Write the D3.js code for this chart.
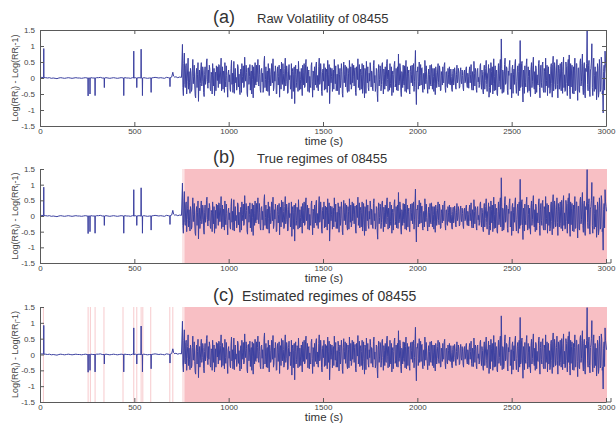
<html>
<head>
<script src="https://cdnjs.cloudflare.com/ajax/libs/d3/7.8.5/d3.min.js"></script>
<style>
  body { margin: 0; background: #fff; }
  svg text { font-family: "Liberation Sans", Arial, sans-serif; fill: #333; }
  .axis path, .axis line { stroke: #5a5a5a; }
</style>
</head>
<body>
<script>
// quiet part, 0..750 s: baseline samples plus single-sample spikes
var quietTimes = [
  0,10,19,20,21,30,40,50,60,70,80,90,100,110,120,130,140,150,160,170,
  180,190,200,210,220,230,240,250,254,255,256,264,265,266,270,280,291,292,293,300,
  310,320,330,340,341,342,350,360,370,380,390,400,410,420,430,443,444,445,450,460,
  470,480,490,496,497,498,505,512,513,514,525,535,536,537,542,543,544,550,560,570,
  580,588,589,590,600,610,620,630,640,650,660,670,680,688,689,690,698,704,708,715,
  720,730,740,750
];
var quietValues = [
  0.01,0.02,0.01,0.92,0.01,0.01,0.00,0.01,-0.01,0.00,-0.01,-0.02,0.00,0.01,0.00,-0.01,0.00,0.01,0.00,-0.01,
  0.00,0.01,0.00,0.00,-0.01,0.00,0.01,0.00,0.00,-0.56,0.00,0.00,-0.50,0.00,0.01,0.00,0.00,-0.55,0.00,0.01,
  0.01,0.02,0.00,0.00,-0.30,0.00,0.01,0.00,-0.01,0.00,0.01,0.00,-0.01,0.00,0.01,0.00,-0.55,0.00,0.01,0.00,
  0.00,-0.01,0.01,0.00,0.84,0.00,0.01,0.00,-0.30,0.00,0.01,0.00,0.90,0.00,0.00,-0.55,0.00,0.01,0.00,-0.01,
  0.00,0.00,-0.45,0.00,0.01,0.02,0.01,0.00,0.01,0.00,-0.01,0.02,0.01,0.00,-0.27,0.01,0.03,0.18,0.06,0.02,
  0.04,0.01,0.03,0.02
];

// active part, samples every 5 s from 755 s to 3000 s (one row = 100 s)
var activeStart = 755, activeStep = 5;
var activeValues = [
  1.05,-0.55,0.78,-0.30,0.45,-0.12,0.62,0.20,-0.48,0.15, -0.35,0.58,0.05,-0.22,-0.62,0.30,0.10,-0.73,0.25,-0.18,
  0.48,-0.10,0.22,-0.58,0.35,-0.05,0.60,-0.32,-0.15,0.28, -0.40,0.12,0.45,-0.25,-0.55,0.18,0.38,-0.08,-0.30,0.40,
  -0.18,0.62,-0.05,-0.35,0.20,0.48,-0.28,0.08,-0.60,0.25, 0.10,-0.42,0.55,0.15,-0.20,-0.48,0.30,0.02,-0.25,0.35,
  0.12,-0.52,0.28,0.45,-0.15,-0.30,0.65,-0.10,0.18,-0.58, 0.32,0.05,-0.38,0.22,0.40,-0.62,0.08,0.48,-0.22,-0.12,
  0.58,-0.25,0.10,-0.45,0.30,0.15,-0.35,0.68,-0.05,-0.40, 0.22,0.45,-0.55,0.12,-0.18,0.38,0.60,-0.30,-0.10,0.25,
  -0.48,0.35,0.05,-0.60,0.28,0.50,-0.20,0.15,-0.35,0.62, -0.12,0.20,-0.45,0.42,0.08,-0.28,-0.65,0.30,0.12,-0.80,
  0.40,-0.15,0.22,0.52,-0.38,-0.05,0.30,-0.55,0.18,0.45, -0.25,0.58,-0.10,-0.42,0.25,0.05,-0.30,0.48,-0.60,0.15,
  0.35,-0.22,0.50,0.08,-0.40,0.62,-0.15,0.20,-0.55,0.28, 0.45,-0.10,-0.35,0.18,0.55,-0.25,-0.80,0.32,0.05,-0.42,
  0.25,0.58,-0.18,-0.40,0.12,0.42,-0.52,0.30,-0.08,0.20, -0.60,0.50,0.10,-0.28,0.35,-0.45,0.15,0.55,-0.20,-0.35,
  0.45,0.05,-0.25,0.32,-0.55,0.18,0.60,-0.12,-0.38,0.28, 0.10,-0.48,0.40,-0.62,0.22,0.52,-0.15,-0.30,0.15,0.48,
  -0.28,0.18,-0.40,0.55,0.08,-0.32,0.25,-0.74,0.42,-0.05, 0.30,-0.20,0.48,-0.50,0.12,0.35,-0.25,0.58,-0.42,0.02,
  0.45,-0.30,-0.55,0.22,0.10,0.52,-0.18,-0.38,0.35,0.75, -0.12,0.28,-0.58,0.15,0.40,-0.22,-0.42,0.55,0.05,-0.35,
  0.25,-0.50,0.38,0.12,-0.25,0.45,-0.10,0.86,-0.83,0.20, -0.35,0.50,0.08,-0.22,0.32,-0.45,0.15,0.55,-0.18,-0.05,
  -0.48,0.28,0.10,-0.20,0.42,-0.35,0.05,0.30,-0.52,0.18, -0.12,0.45,-0.28,0.22,-0.38,0.08,0.35,-0.15,0.48,-0.45,
  0.20,-0.30,0.12,0.35,-0.22,0.05,-0.42,0.28,-0.10,0.18, -0.35,0.40,-0.05,0.15,-0.28,0.32,-0.18,0.08,-0.40,0.25,
  -0.12,0.35,-0.30,0.05,0.22,-0.15,0.42,-0.38,0.10,0.52, -0.25,0.18,-0.45,0.30,0.02,-0.20,0.45,-0.35,0.12,-0.50,
  0.40,-0.08,0.55,-0.42,0.18,-0.60,0.30,0.48,-0.22,-0.50, 0.60,0.05,-0.38,0.25,-0.55,0.45,-0.10,0.58,1.22,-0.48,
  0.20,-0.35,0.62,-0.15,0.30,-0.52,0.08,0.55,-0.30,-0.62, 0.40,0.12,-0.20,0.58,-0.48,0.25,-0.55,0.45,1.17,-0.25,
  0.52,-0.75,0.15,0.38,-0.28,0.60,-0.45,0.05,0.25,-0.58, 0.48,-0.12,0.65,-0.35,-0.50,0.30,0.10,-0.22,0.55,-0.62,
  0.40,-0.30,0.50,-0.45,0.20,0.62,-0.08,-0.55,0.35,0.12, -0.40,0.45,-0.60,0.68,-0.20,0.28,-0.32,0.58,-0.62,0.15,
  0.30,-0.25,0.50,-0.48,0.65,0.10,-0.40,0.35,-0.55,0.58, 0.72,-0.65,-0.28,0.40,0.15,-0.50,0.62,-0.38,0.45,-0.70,
  0.32,-0.45,0.60,-0.12,0.75,-0.52,0.48,-0.62,0.20,1.48, -0.40,0.55,-0.58,0.30,1.07,-0.55,0.62,0.08,-0.35,-0.68,
  0.45,-0.60,0.58,-0.42,0.65,-0.50,-1.09,0.40,0.84,0.30
];
// samples in between, 757.5 s .. 2997.5 s
var activeMidStart = 757.5;
var activeMidValues = [
  -0.30,0.45,-0.20,0.38,-0.50,0.25,-0.35,-0.15,0.30,-0.42, 0.22,-0.18,0.40,-0.55,0.12,-0.30,0.48,0.05,-0.40,0.28,
  -0.25,0.35,-0.45,0.10,-0.20,0.50,-0.12,0.25,0.40,-0.35, 0.18,-0.50,0.08,0.30,-0.22,-0.40,0.15,0.35,0.42,-0.18,
  0.28,-0.40,0.35,0.22,-0.45,-0.10,0.38,-0.30,0.15,-0.12, -0.35,0.30,-0.20,-0.45,0.52,0.10,-0.15,-0.38,0.42,-0.28,
  -0.35,0.20,-0.45,0.05,0.38,-0.25,0.12,0.40,-0.48,0.30, -0.20,0.42,0.15,-0.50,-0.05,0.35,-0.30,-0.18,0.40,0.22,
  -0.20,0.40,-0.38,0.25,-0.12,-0.45,0.50,-0.30,0.35,0.18, -0.42,-0.08,0.30,-0.25,0.45,-0.15,-0.40,0.20,0.38,-0.50,
  0.15,-0.22,0.40,0.18,-0.35,-0.12,0.45,-0.40,0.30,-0.25, 0.38,-0.48,0.22,-0.05,-0.35,0.45,0.20,-0.42,0.35,0.10,
  -0.30,0.28,-0.42,0.10,0.20,-0.35,-0.18,0.40,-0.22,-0.30, 0.42,-0.15,0.35,0.20,-0.45,-0.25,0.38,-0.12,0.22,-0.38,
  0.12,0.40,-0.30,-0.25,0.35,-0.20,0.45,-0.42,0.18,-0.10, -0.38,0.32,0.28,-0.45,0.10,0.42,-0.35,-0.15,0.30,0.18,
  -0.35,0.15,0.38,-0.22,-0.40,0.25,0.10,-0.30,0.45,-0.48, 0.22,-0.15,0.40,0.05,-0.35,0.30,-0.42,0.18,0.35,-0.25,
  -0.15,0.40,0.22,-0.45,0.35,-0.05,-0.30,0.42,0.18,-0.35, 0.45,-0.22,-0.12,0.30,-0.48,0.20,0.35,-0.40,-0.10,0.28,
  0.22,-0.35,0.40,-0.15,-0.42,0.30,-0.48,0.15,-0.25,0.38, -0.40,0.42,-0.10,0.28,-0.35,-0.20,0.45,-0.05,0.25,-0.38,
  -0.18,0.35,0.12,-0.45,0.42,-0.28,0.30,0.15,-0.40,-0.22, 0.45,-0.38,0.20,-0.30,-0.12,0.38,0.25,-0.45,0.35,0.15,
  -0.38,0.20,-0.15,0.40,0.28,-0.42,0.35,-0.30,0.22,0.35, -0.12,-0.25,0.42,0.30,-0.40,0.12,-0.35,0.20,0.38,-0.28,
  0.10,-0.35,0.40,-0.25,0.15,0.30,-0.42,-0.18,0.35,-0.30, 0.25,-0.15,0.38,-0.40,0.20,-0.22,-0.12,0.40,-0.30,0.18,
  -0.25,0.30,-0.18,-0.20,0.28,-0.35,0.15,-0.22,0.32,-0.28, 0.10,-0.15,0.30,-0.32,0.20,-0.10,0.25,-0.30,0.18,-0.15,
  0.28,-0.20,0.15,-0.32,0.35,0.10,-0.28,0.20,-0.38,0.15, 0.30,-0.35,0.25,-0.12,-0.30,0.38,-0.15,0.25,-0.40,0.20,
  -0.35,0.30,-0.20,0.15,0.42,-0.30,-0.45,0.20,0.35,-0.18, -0.40,0.38,0.22,-0.50,0.15,-0.28,0.40,-0.35,0.30,0.25,
  -0.45,0.42,-0.20,0.35,-0.40,0.22,0.40,-0.35,0.15,0.30, -0.48,0.28,0.45,-0.22,-0.12,0.38,0.20,-0.40,-0.30,0.45,
  -0.30,0.25,-0.48,-0.15,0.42,-0.22,0.35,-0.40,-0.35,0.28, -0.30,0.40,-0.25,0.20,0.38,-0.45,-0.18,0.45,-0.30,0.22,
  -0.15,0.42,-0.38,0.30,-0.45,-0.25,0.40,0.25,-0.30,-0.48, 0.35,-0.18,0.42,-0.40,0.48,-0.35,0.22,-0.20,0.40,-0.35,
  0.45,-0.40,0.20,0.35,-0.30,-0.42,0.50,-0.18,0.40,-0.25, -0.35,0.45,0.25,-0.48,0.35,0.22,-0.40,0.45,-0.22,0.30,
  -0.40,0.50,-0.25,0.45,-0.30,0.35,-0.48,0.30,0.45,-0.20, 0.40,-0.35,0.22,0.50,-0.30,0.28,-0.42,0.35,0.20,-0.40,
  0.30,-0.45,0.25,-0.35,0.48,-0.40,0.20,-0.38,0.45,0.15
];

var xTicks = [0, 500, 1000, 1500, 2000, 2500, 3000];
var yTicks = [-1.5, -1, -0.5, 0, 0.5, 1, 1.5];

var titleTags = ["(a)", "(b)", "(c)"];
var titleTexts = ["Raw Volatility of 08455", "True regimes of 08455", "Estimated regimes of 08455"];

// regimes: thin marks at change points, one long shaded regime at the end
var trueChangeTimes = [758];
var estChangeTimes = [18, 255, 267, 292, 339, 440, 497, 513, 536, 545, 587, 688, 704, 758];
var regimeStart = 765, regimeEnd = 3000;

var series = quietTimes.map(function(t, i) { return { t: t, v: quietValues[i] }; })
  .concat(activeValues.map(function(v, i) { return { t: activeStart + i * activeStep, v: v }; }))
  .concat(activeMidValues.map(function(v, i) { return { t: activeMidStart + i * activeStep, v: v }; }))
  .sort(function(a, b) { return a.t - b.t; });

var width = 616, height = 426;
var left = 40, right = 606;

// layout of the three panels (pixels)
var panels = [
  { top: 30,  bottom: 126, titleY: 23,  textX: 257, labelY: 145, box: true,  marks: null },
  { top: 169, bottom: 263, titleY: 163, textX: 257, labelY: 282, box: false, marks: trueChangeTimes },
  { top: 307, bottom: 402, titleY: 301, textX: 242, labelY: 421, box: false, marks: estChangeTimes }
];

var x = d3.scaleLinear().domain([0, 3000]).range([left, right]);

var svg = d3.select("body").append("svg")
  .attr("width", width)
  .attr("height", height);

panels.forEach(function(p, k) {
  var y = d3.scaleLinear().domain([-1.5, 1.5]).range([p.bottom, p.top]);
  var g = svg.append("g");

  // shading
  if (p.marks) {
    g.append("rect")
      .attr("x", x(regimeStart))
      .attr("y", p.top)
      .attr("width", x(regimeEnd) - x(regimeStart) + 1)
      .attr("height", p.bottom - p.top)
      .attr("fill", "#f8bfc4");
    g.selectAll(".mark").data(p.marks).enter().append("line")
      .attr("x1", function(d) { return x(d); })
      .attr("x2", function(d) { return x(d); })
      .attr("y1", p.top)
      .attr("y2", p.bottom)
      .attr("stroke", "#f7cacd")
      .attr("stroke-width", 1);
  }

  var line = d3.line()
    .x(function(d) { return x(d.t); })
    .y(function(d) { return y(d.v); });

  g.append("path")
    .datum(series)
    .attr("d", line)
    .attr("fill", "none")
    .attr("stroke", "#3b40a0")
    .attr("stroke-width", 1)
    .attr("stroke-linejoin", "bevel");

  // axes, ticks point inwards
  var fmt = function(d) { return String(d); };
  g.append("g").attr("class", "axis")
    .attr("transform", "translate(0," + p.bottom + ")")
    .call(d3.axisBottom(x).tickValues(xTicks).tickFormat(fmt).tickSizeInner(-4).tickSizeOuter(0).tickPadding(2));
  g.append("g").attr("class", "axis")
    .attr("transform", "translate(" + left + ",0)")
    .call(d3.axisLeft(y).tickValues(yTicks).tickFormat(fmt).tickSizeInner(-4).tickSizeOuter(0).tickPadding(5));
  g.selectAll(".axis text").attr("font-size", 8).attr("font-family", "Liberation Sans, Arial, sans-serif").style("fill", "#444");

  if (p.box) {
    g.append("g").attr("class", "axis")
      .attr("transform", "translate(0," + p.top + ")")
      .call(d3.axisTop(x).tickValues(xTicks).tickFormat("").tickSizeInner(-4).tickSizeOuter(0));
    g.append("g").attr("class", "axis")
      .attr("transform", "translate(" + right + ",0)")
      .call(d3.axisRight(y).tickValues(yTicks).tickFormat("").tickSizeInner(-4).tickSizeOuter(0));
  } else {
    g.append("path")
      .attr("d", "M" + right + "," + p.bottom + "H" + (right + 5) + "V" + (p.bottom - 4))
      .attr("fill", "none")
      .attr("stroke", "#5a5a5a");
  }
  g.selectAll(".axis .domain").attr("stroke", "#5a5a5a");

  // title
  g.append("text")
    .attr("x", 213).attr("y", p.titleY)
    .attr("font-size", 18)
    .text(titleTags[k]);
  g.append("text")
    .attr("x", p.textX).attr("y", p.titleY)
    .attr("font-size", k == 2 ? 14 : 13)
    .text(titleTexts[k]);

  // x label
  g.append("text")
    .attr("x", 324).attr("y", p.labelY)
    .attr("text-anchor", "middle")
    .attr("font-size", 11.5)
    .text("time (s)");

  // y label with subscripts
  var yl = g.append("text")
    .attr("transform", "translate(18," + (p.top + p.bottom) / 2 + ") rotate(-90)")
    .attr("text-anchor", "middle")
    .attr("font-size", 9)
    .style("fill", "#444");
  yl.append("tspan").text("Log(RR");
  yl.append("tspan").attr("font-size", 6.5).attr("dy", 2).text("i");
  yl.append("tspan").attr("dy", -2).text(") - Log(RR");
  yl.append("tspan").attr("font-size", 6.5).attr("dy", 2).text("i");
  yl.append("tspan").attr("dy", -2).text("-1)");
});
</script>
</body>
</html>
